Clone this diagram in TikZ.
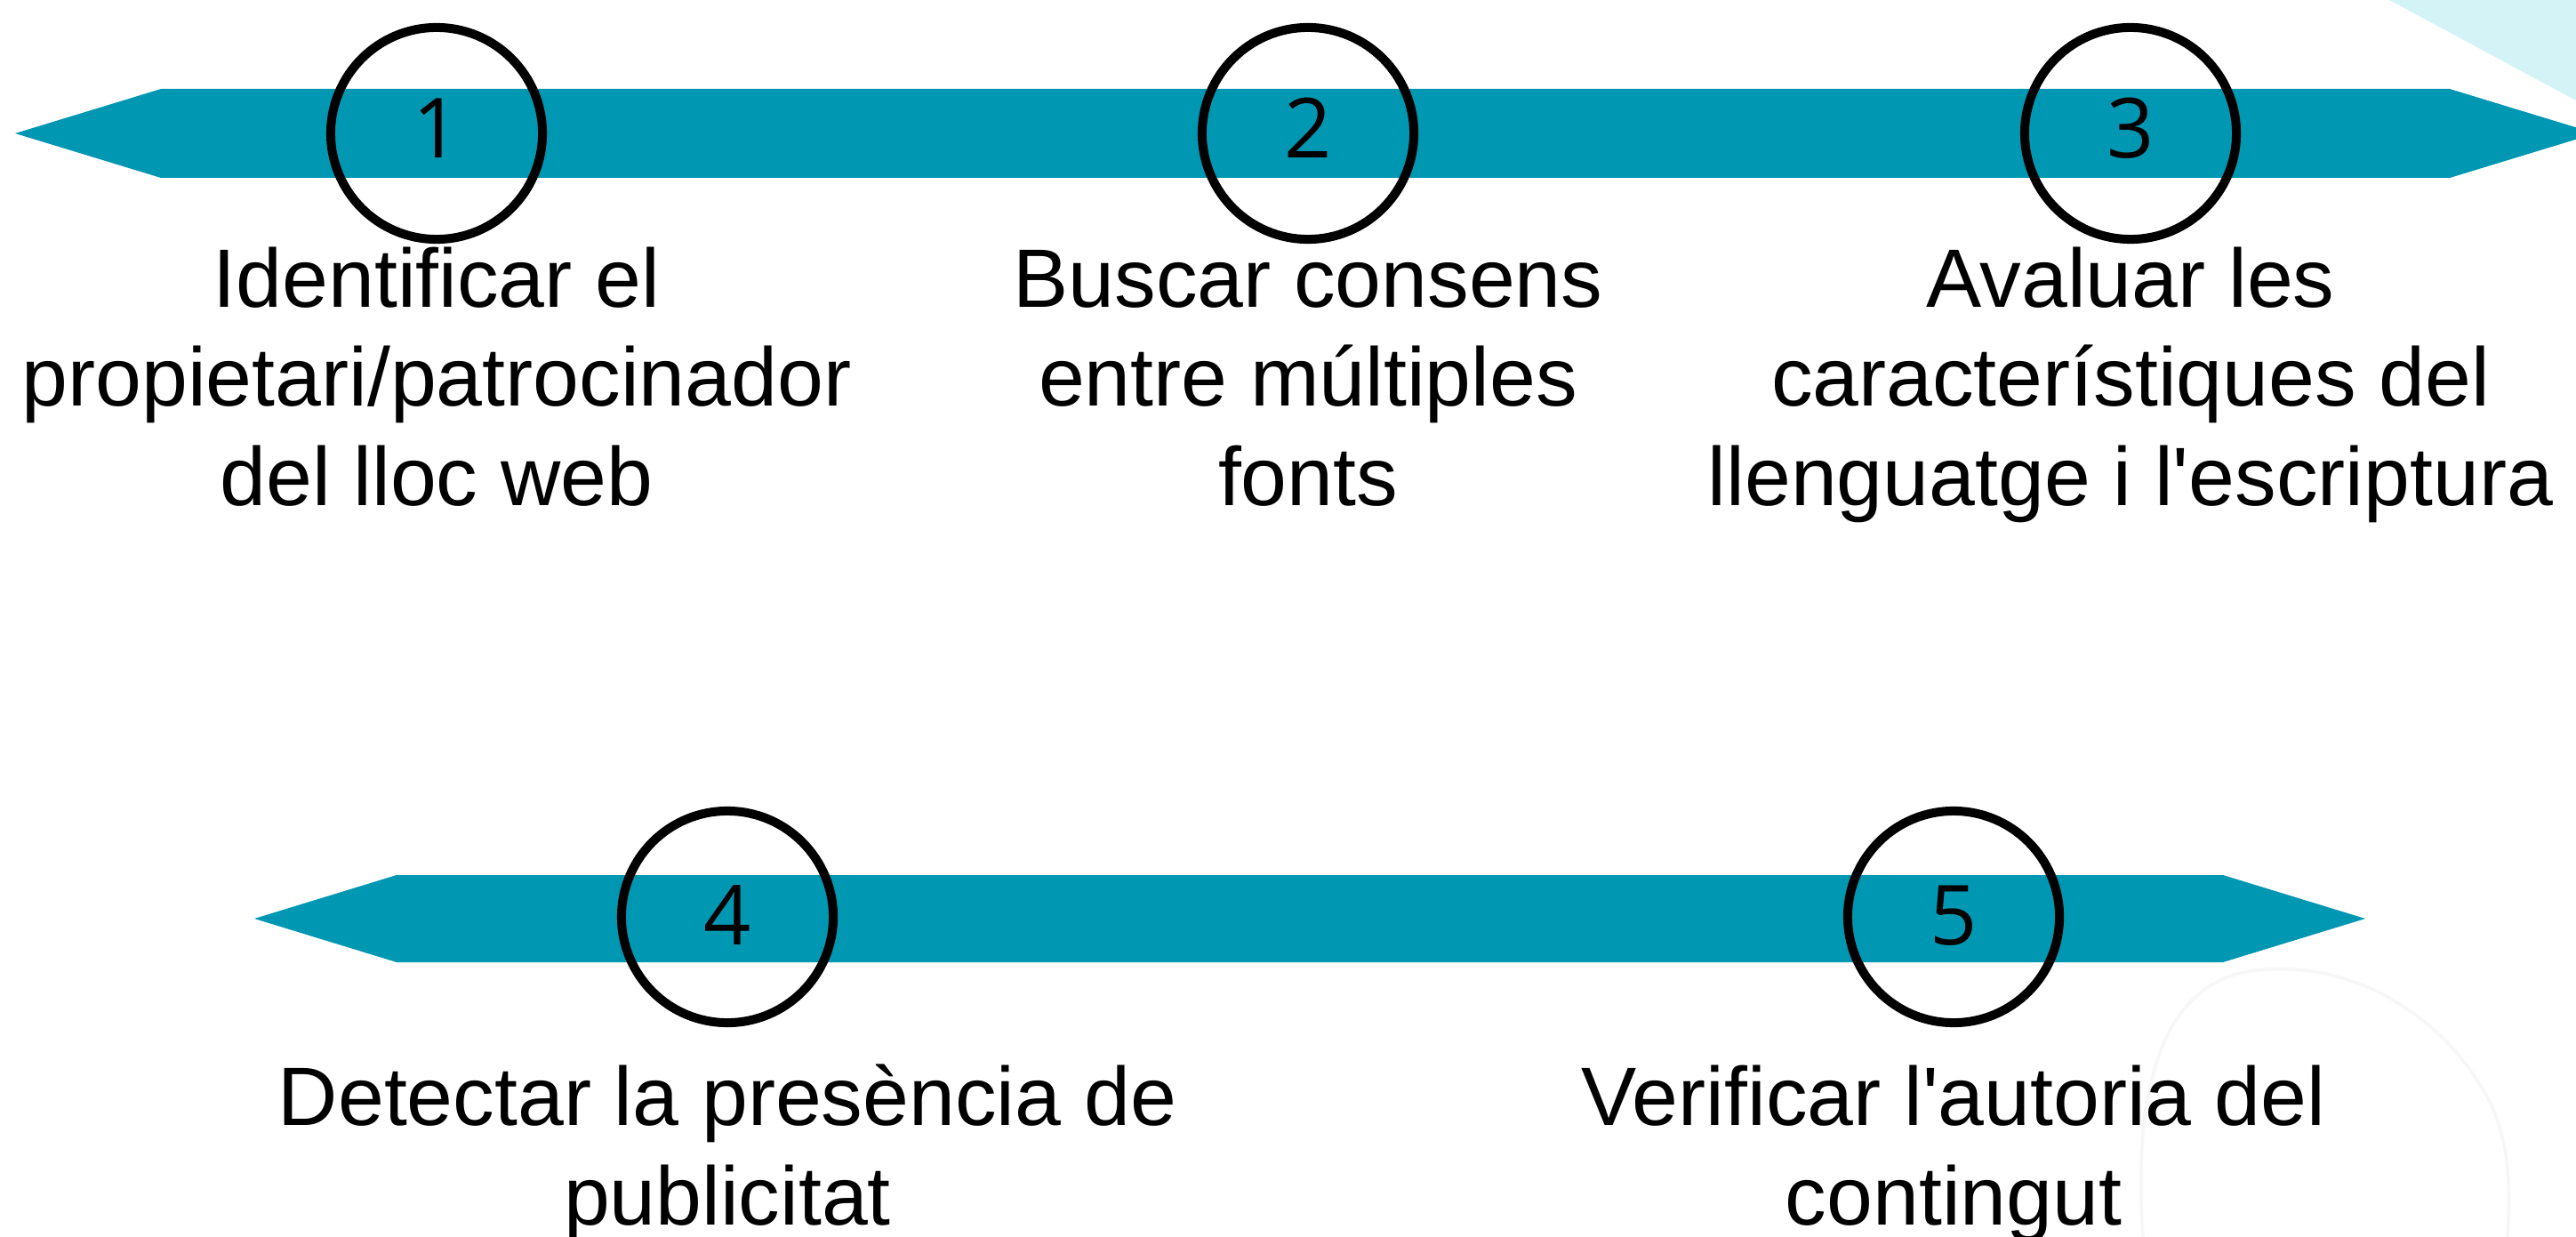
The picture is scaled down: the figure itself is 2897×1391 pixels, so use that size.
\documentclass[tikz,border=0pt]{standalone}
\usepackage{fontspec}
\setmainfont{Liberation Sans}[Ligatures=TeXOff]
\newfontfamily\numfont{Open Sans}
\definecolor{barteal}{RGB}{0,151,178}
\definecolor{cornercyan}{RGB}{212,243,247}
\tikzset{
  bar/.style={fill=barteal, draw=none},
  ring/.style={circle, draw=black, line width=2.85pt, minimum size=2.38cm, inner sep=0pt},
  num/.style={anchor=base, inner sep=0pt, font=\numfont\fontsize{26.5pt}{31.7pt}\selectfont},
  label/.style={anchor=base, align=center, inner sep=0pt, font=\fontsize{26.5pt}{31.7pt}\selectfont}
}
\begin{document}
\begin{tikzpicture}[x=0.01cm,y=-0.01cm]
\useasboundingbox (0,0) rectangle (2897,1391);
\fill[white] (0,0) rectangle (2897,1391);
% corner decoration
\fill[cornercyan] (2687,0) -- (2897,0) -- (2897,113) -- cycle;
% faint background blob
\draw[black!3, line width=1pt] (2410,1391) .. controls (2400,1250) and (2420,1110) .. (2530,1092)
  .. controls (2650,1075) and (2760,1150) .. (2805,1250) .. controls (2825,1300) and (2822,1350) .. (2820,1391);
% bars
\path[bar] (17,150) -- (181,100) -- (2755,100) -- (2919,150) -- (2755,200) -- (181,200) -- cycle;
\path[bar] (286,1033) -- (446,984) -- (2500,984) -- (2660,1033) -- (2500,1082) -- (446,1082) -- cycle;
% rings
\node[ring] (c1) at (491,150) {};
\node[ring] (c2) at (1471,150) {};
\node[ring] (c3) at (2396,150) {};
\node[ring] (c4) at (818,1031) {};
\node[ring] (c5) at (2197,1031) {};
% numbers
\node[num] (n1) at (491,178) {1};
\node[num] (n2) at (1471,178) {2};
\node[num] (n3) at (2396,178) {3};
\node[num] (n4) at (818,1062) {4};
\node[num] (n5) at (2197,1062) {5};
% labels (anchor base = last line baseline)
\node[label] (t1) at (491,568) {Identificar el\\propietari/patrocinador\\del lloc web};
\node[label] (t2) at (1471,568) {Buscar consens\\entre múltiples\\fonts};
\node[label] (t3) at (2396,568) {Avaluar les\\característiques del\\llenguatge i l'escriptura};
\node[label] (t4) at (818,1377) {Detectar la presència de\\publicitat};
\node[label] (t5) at (2197,1377) {Verificar l'autoria del\\contingut};
\end{tikzpicture}
\end{document}
